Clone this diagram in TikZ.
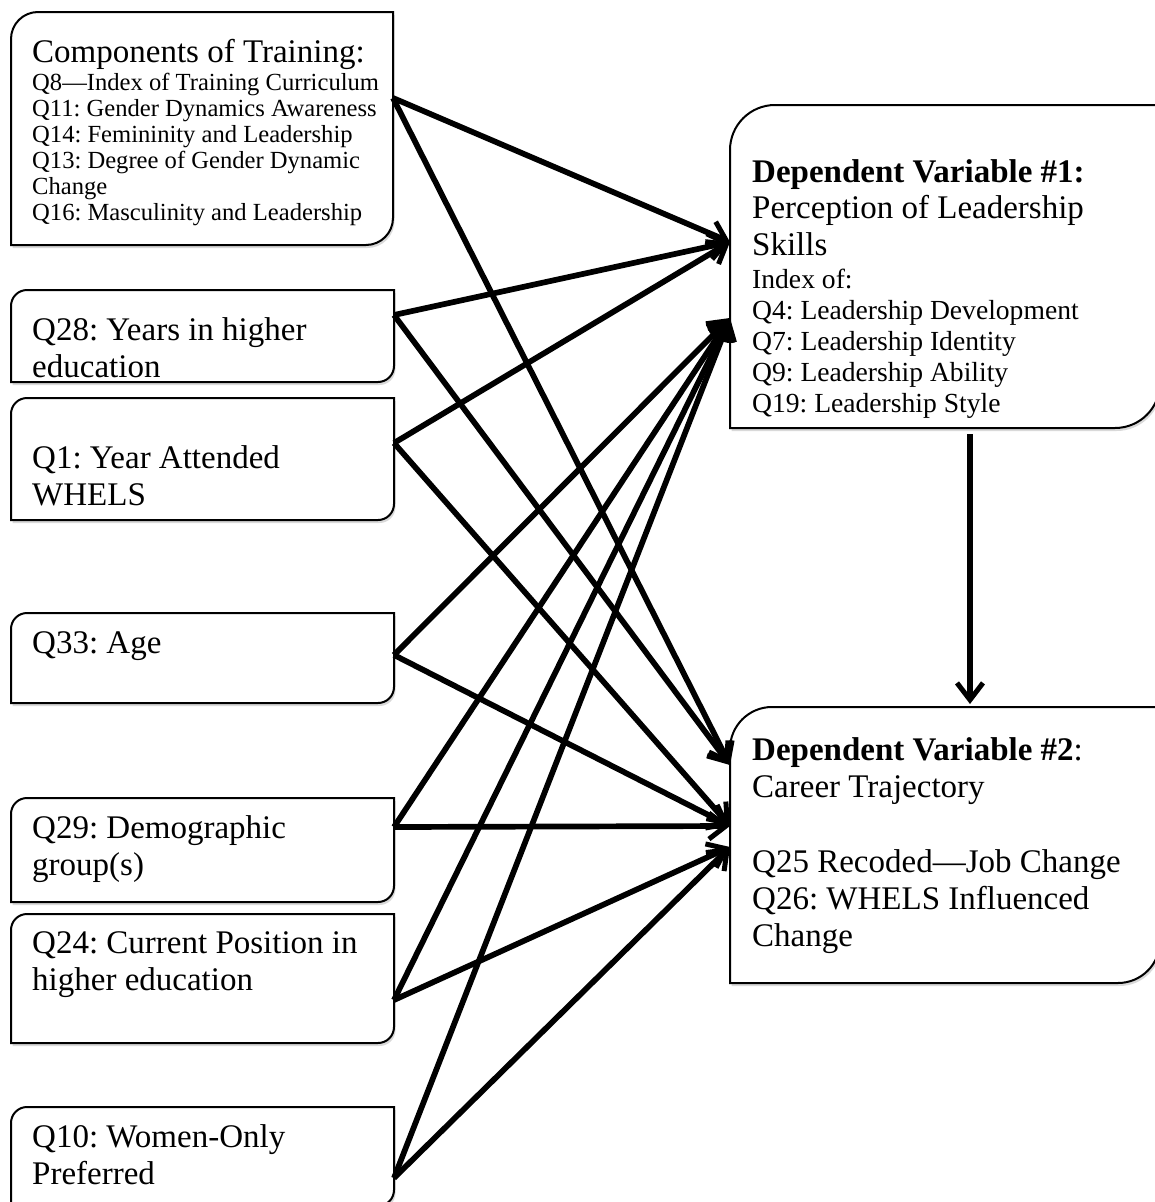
\documentclass[tikz,border=0pt]{standalone}
\usepackage{fontspec}
\setmainfont{Liberation Serif}
\frenchspacing
\usetikzlibrary{arrows.meta,shadows}
\newcommand\rdbox[2]{\draw[boxline] (#1.south west) -- ([yshift=-#2]#1.north west) arc[start angle=180,end angle=90,radius=#2] -- (#1.north east) -- ([yshift=#2]#1.south east) arc[start angle=0,end angle=-90,radius=#2] -- cycle;}
\tikzset{
  boxnode/.style={draw=none, rectangle, inner sep=0pt, outer sep=0pt, anchor=north west},
  boxline/.style={line width=2pt, fill=white, drop shadow={shadow xshift=1.5pt, shadow yshift=-3pt, opacity=0.15, fill=black}},
  conn/.style={line width=5.7pt, -{Straight Barb[length=17pt,width=26pt,line width=5pt]}},
  big/.style={font=\fontsize{33}{37}\selectfont, anchor=base west, inner sep=0pt},
  smallc/.style={font=\fontsize{24.6}{26}\selectfont, anchor=base west, inner sep=0pt},
  smalld/.style={font=\fontsize{27.6}{31}\selectfont, anchor=base west, inner sep=0pt}
}
\begin{document}
\begin{tikzpicture}[x=1pt,y=1pt]
\useasboundingbox (0,0) rectangle (1155,-1202);
% box frames (nodes)
\node[boxnode, minimum width=382, minimum height=233] (comp) at (11,-12) {};
\node[boxnode, minimum width=383, minimum height=92]  (q28)  at (11,-290) {};
\node[boxnode, minimum width=383, minimum height=122] (q1)   at (11,-398) {};
\node[boxnode, minimum width=383, minimum height=90]  (q33)  at (11,-613) {};
\node[boxnode, minimum width=383, minimum height=104] (q29)  at (11,-798) {};
\node[boxnode, minimum width=383, minimum height=129] (q24)  at (11,-914) {};
\node[boxnode, minimum width=383, minimum height=99]  (q10)  at (11,-1107) {};
\node[boxnode, minimum width=430, minimum height=323] (dv1)  at (730,-105) {};
\node[boxnode, minimum width=430, minimum height=276] (dv2)  at (730,-707) {};
\rdbox{comp}{27pt}
\rdbox{q28}{16pt}
\rdbox{q1}{16pt}
\rdbox{q33}{16pt}
\rdbox{q29}{16pt}
\rdbox{q24}{16pt}
\rdbox{q10}{16pt}
\rdbox{dv1}{45pt}
\rdbox{dv2}{42pt}
% texts
\node[big] (cT) at (32,-62) {Components of Training:};
\node[smallc] (c1) at (32,-90) {Q8—Index of Training Curriculum};
\node[smallc] (c2) at (32,-116) {Q11: Gender Dynamics Awareness};
\node[smallc] (c3) at (32,-142) {Q14: Femininity and Leadership};
\node[smallc] (c4) at (32,-168) {Q13: Degree of Gender Dynamic};
\node[smallc] (c5) at (32,-194) {Change};
\node[smallc] (c6) at (32,-220) {Q16: Masculinity and Leadership};
\node[big] (t28a) at (32,-340) {Q28: Years in higher};
\node[big] (t28b) at (32,-377) {education};
\node[big] (t1a) at (32,-468) {Q1: Year Attended};
\node[big] (t1b) at (32,-505) {WHELS};
\node[big] (t33) at (32,-653) {Q33: Age};
\node[big] (t29a) at (32,-838) {Q29: Demographic};
\node[big] (t29b) at (32,-875) {group(s)};
\node[big] (t24a) at (32,-953) {Q24: Current Position in};
\node[big] (t24b) at (32,-990) {higher education};
\node[big] (t10a) at (32,-1147) {Q10: Women-Only};
\node[big] (t10b) at (32,-1184) {Preferred};
\node[big] (d1a) at (752,-182) {\textbf{Dependent Variable \#1:}};
\node[big] (d1b) at (752,-218) {Perception of Leadership};
\node[big] (d1c) at (752,-255) {Skills};
\node[smalld] (d1d) at (752,-288) {Index of:};
\node[smalld] (d1e) at (752,-319) {Q4: Leadership Development};
\node[smalld] (d1f) at (752,-350) {Q7: Leadership Identity};
\node[smalld] (d1g) at (752,-381) {Q9: Leadership Ability};
\node[smalld] (d1h) at (752,-412) {Q19: Leadership Style};
\node[big] (d2a) at (752,-760) {\textbf{Dependent Variable \#2}:};
\node[big] (d2b) at (752,-797) {Career Trajectory};
\node[big] (d2c) at (752,-872) {Q25 Recoded—Job Change};
\node[big] (d2d) at (752,-909) {Q26: WHELS Influenced};
\node[big] (d2e) at (752,-946) {Change};
% connector end points on box edges
\coordinate (compO) at ([yshift=30.5pt]comp.east);
\coordinate (q28O) at ([yshift=21pt]q28.east);
\coordinate (q1O) at ([yshift=16pt]q1.east);
\coordinate (q33O) at ([yshift=3pt]q33.east);
\coordinate (q29O) at ([yshift=23pt]q29.east);
\coordinate (q24O) at ([yshift=-21.5pt]q24.east);
\coordinate (q10O) at ([yshift=-21.5pt]q10.east);
\coordinate (dv1A) at ([yshift=24.5pt]dv1.west);
\coordinate (dv1B) at ([yshift=-51.5pt]dv1.west);
\coordinate (dv2A) at ([yshift=80pt]dv2.west);
\coordinate (dv2B) at ([yshift=19pt]dv2.west);
\coordinate (dv2C) at ([yshift=-2pt]dv2.west);
\coordinate (dv1S) at ([shift={(25pt,-6pt)}]dv1.south);
\coordinate (dv2N) at ([shift={(25pt,3pt)}]dv2.north);
% connectors
\draw[conn] (compO) -- (dv1A);
\draw[conn] (compO) -- (dv2A);
\draw[conn] (q28O) -- (dv1A);
\draw[conn] (q28O) -- (dv2A);
\draw[conn] (q1O) -- (dv1A);
\draw[conn] (q1O) -- (dv2B);
\draw[conn] (q33O) -- (dv1B);
\draw[conn] (q33O) -- (dv2B);
\draw[conn] (q29O) -- (dv1B);
\draw[conn] (q29O) -- (dv2B);
\draw[conn] (q24O) -- (dv1B);
\draw[conn] (q24O) -- (dv2C);
\draw[conn] (q10O) -- (dv1B);
\draw[conn] (q10O) -- (dv2C);
\draw[conn] (dv1S) -- (dv2N);
\end{tikzpicture}
\end{document}
